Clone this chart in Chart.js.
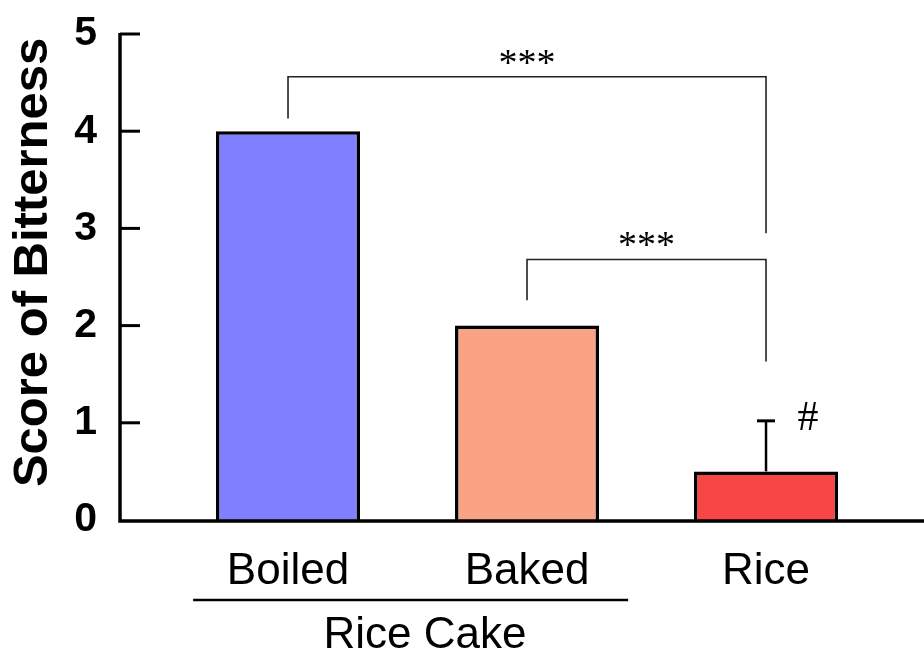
<!DOCTYPE html>
<html>
<head>
<meta charset="utf-8">
<title>Score of Bitterness</title>
<script src="https://cdn.jsdelivr.net/npm/chart.js@4/dist/chart.umd.min.js"></script>
<style>
  html, body { margin: 0; padding: 0; background: #fff; }
  #wrap { width: 924px; height: 657px; }
</style>
</head>
<body>
<div id="wrap"><canvas id="c" width="924" height="657"></canvas></div>
<script>
// Bitterness scores per sample
const categories = ['Boiled', 'Baked', 'Rice'];
const scores = [4, 2, 0.5];
const errors = [0, 0, 0.52];
const barColors = ['#7F7FFF', '#F9A384', '#F84545'];
const yTicks = [0, 1, 2, 3, 4, 5];
const yTitle = 'Score of Bitterness';

// significance brackets: from / to category index, bracket levels in score units
const comparisons = [
  { from: 0, to: 2, top: 4.56, leftEnd: 4.13, rightEnd: 2.95, label: '***' },
  { from: 1, to: 2, top: 2.68, leftEnd: 2.26, rightEnd: 1.63, label: '***' }
];
const riceMark = '#';
const groupLabel = 'Rice Cake';

const SANS = "'Liberation Sans', Arial, sans-serif";
const SERIF = "'Liberation Serif', 'Times New Roman', serif";

const decorations = {
  id: 'decorations',
  afterDatasetsDraw(chart) {
    const ctx = chart.ctx;
    const x = chart.scales.x, y = chart.scales.y;
    const area = chart.chartArea;
    ctx.save();
    ctx.strokeStyle = '#000';
    ctx.lineCap = 'butt';

    // error bars
    scores.forEach((v, i) => {
      if (!errors[i]) return;
      const cx = x.getPixelForValue(i);
      const y0 = y.getPixelForValue(v);
      const y1 = y.getPixelForValue(v + errors[i]);
      ctx.lineWidth = 2.5;
      ctx.beginPath();
      ctx.moveTo(cx, y0);
      ctx.lineTo(cx, y1);
      ctx.stroke();
      ctx.lineWidth = 3;
      ctx.beginPath();
      ctx.moveTo(cx - 9, y1);
      ctx.lineTo(cx + 9, y1);
      ctx.stroke();
    });

    // axes
    ctx.lineWidth = 3.5;
    ctx.beginPath();
    ctx.moveTo(area.left, y.getPixelForValue(5) - 1);
    ctx.lineTo(area.left, area.bottom + 1);
    ctx.lineTo(area.right, area.bottom + 1);
    ctx.stroke();

    // inward tick marks on y axis
    ctx.lineWidth = 3;
    yTicks.forEach(t => {
      if (t === 0) return;
      const py = y.getPixelForValue(t);
      ctx.beginPath();
      ctx.moveTo(area.left, py);
      ctx.lineTo(area.left + 20, py);
      ctx.stroke();
    });

    // y axis title, rotated
    ctx.save();
    ctx.translate(33, y.getPixelForValue(2.65));
    ctx.rotate(-Math.PI / 2);
    ctx.fillStyle = '#000';
    ctx.font = 'bold 49px ' + SANS;
    ctx.textAlign = 'center';
    ctx.textBaseline = 'middle';
    ctx.fillText(yTitle, 0, 0);
    ctx.restore();

    // significance brackets
    ctx.strokeStyle = '#222';
    ctx.lineWidth = 1.6;
    ctx.fillStyle = '#000';
    ctx.font = '38px ' + SERIF;
    ctx.textAlign = 'center';
    ctx.textBaseline = 'middle';
    comparisons.forEach(c => {
      const xl = x.getPixelForValue(c.from);
      const xr = x.getPixelForValue(c.to);
      const yt = y.getPixelForValue(c.top);
      ctx.beginPath();
      ctx.moveTo(xl, y.getPixelForValue(c.leftEnd));
      ctx.lineTo(xl, yt);
      ctx.lineTo(xr, yt);
      ctx.lineTo(xr, y.getPixelForValue(c.rightEnd));
      ctx.stroke();
      ctx.fillText(c.label, (xl + xr) / 2, yt - 12);
    });

    // mark next to the rice error bar
    const ri = 2;
    ctx.font = '42px ' + SERIF;
    ctx.fillText(riceMark, x.getPixelForValue(ri + 0.176), y.getPixelForValue(scores[ri] + errors[ri]) - 2);

    // grouping line and label under the rice cake samples
    ctx.strokeStyle = '#000';
    ctx.lineWidth = 2.5;
    ctx.beginPath();
    ctx.moveTo(x.getPixelForValue(-0.397), 600);
    ctx.lineTo(x.getPixelForValue(1.423), 600);
    ctx.stroke();
    ctx.font = '44px ' + SANS;
    ctx.textBaseline = 'alphabetic';
    ctx.fillText(groupLabel, x.getPixelForValue(0.573), 648);

    ctx.restore();
  }
};

new Chart(document.getElementById('c'), {
  type: 'bar',
  data: {
    datasets: [{
      data: categories.map((c, i) => ({ x: i, y: scores[i] })),
      backgroundColor: barColors,
      borderColor: '#000',
      borderWidth: 3.5,
      borderSkipped: 'bottom',
      barPercentage: 0.6025,
      categoryPercentage: 1
    }]
  },
  options: {
    responsive: false,
    animation: false,
    events: [],
    layout: { padding: { top: 34, right: 0, left: 0, bottom: 0 } },
    plugins: { legend: { display: false }, tooltip: { enabled: false } },
    scales: {
      x: {
        type: 'linear',
        offset: false,
        min: -0.703,
        max: 2.661,
        grid: { display: false, drawTicks: false, offset: false },
        border: { display: false },
        afterBuildTicks: s => { s.ticks = categories.map((c, i) => ({ value: i })); },
        afterFit: s => { s.height = 137; s.paddingLeft = 0; s.paddingRight = 0; },
        ticks: {
          autoSkip: false,
          maxRotation: 0,
          padding: 25,
          color: '#000',
          font: { family: SANS, size: 44 },
          callback: v => categories[v] ?? ''
        }
      },
      y: {
        min: 0,
        max: 5,
        grid: { display: false, drawTicks: false },
        border: { display: false },
        afterBuildTicks: s => { s.ticks = yTicks.map(v => ({ value: v })); },
        afterFit: s => { s.width = 120; s.paddingTop = 0; s.paddingBottom = 0; },
        ticks: {
          padding: 23,
          color: '#000',
          font: { family: SANS, size: 41, weight: 'bold' }
        }
      }
    }
  },
  plugins: [decorations]
});
</script>
</body>
</html>
